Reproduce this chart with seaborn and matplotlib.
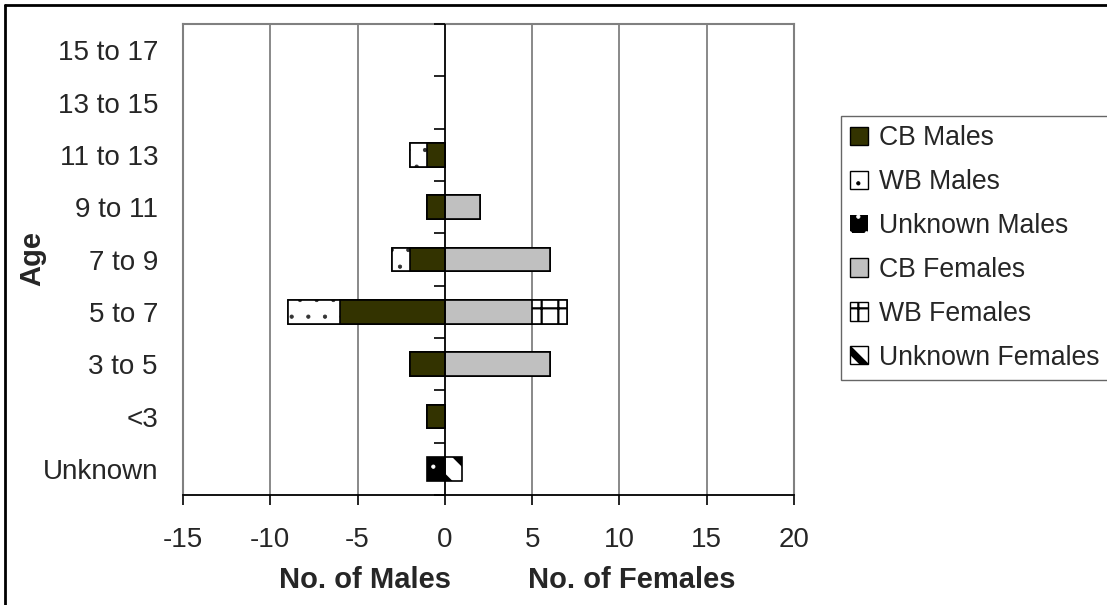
import numpy as np
import pandas as pd
import matplotlib
matplotlib.use("Agg")
import matplotlib.pyplot as plt
import seaborn as sns
from matplotlib.patches import Patch
from matplotlib.lines import Line2D

# ---------------- data ----------------
ages = ["15 to 17", "13 to 15", "11 to 13", "9 to 11", "7 to 9",
        "5 to 7", "3 to 5", "<3", "Unknown"]
cb_males = [0, 0, 1, 1, 2, 6, 2, 1, 0]
wb_males = [0, 0, 1, 0, 1, 3, 0, 0, 0]
unknown_males = [0, 0, 0, 0, 0, 0, 0, 0, 1]
cb_females = [0, 0, 0, 2, 6, 5, 6, 0, 0]
wb_females = [0, 0, 0, 0, 0, 2, 0, 0, 0]
unknown_females = [0, 0, 0, 0, 0, 0, 0, 0, 1]
series_names = ["CB Males", "WB Males", "Unknown Males",
                "CB Females", "WB Females", "Unknown Females"]
x_ticks = [-15, -10, -5, 0, 5, 10, 15, 20]

# ---------------- styles ----------------
styles = {
    "CB Males": dict(fc="#333300", hatch=None, hc="black", hlw=1.0),
    "WB Males": dict(fc="white", hatch=".", hc="#333333", hlw=0.6),
    "Unknown Males": dict(fc="black", hatch=".", hc="white", hlw=0.6),
    "CB Females": dict(fc="#C0C0C0", hatch=None, hc="black", hlw=1.0),
    "WB Females": dict(fc="white", hatch="+", hc="black", hlw=1.6),
    "Unknown Females": dict(fc="white", hatch="\\", hc="black", hlw=5.0),
}

sns.set_theme(style="white")
plt.rcParams["font.family"] = ["Liberation Sans", "DejaVu Sans"]

W, H = 1107, 605
fig = plt.figure(figsize=(W / 100, H / 100), dpi=100)
ax = fig.add_axes([183 / W, 1 - 495 / H, (794 - 183) / W, (495 - 24) / H])

BAR_W = 0.45
EDGE_LW = 1.2


def set_hatch_lw(p, lw):
    """Give one patch its own hatch line width (works at draw time)."""
    if hasattr(p, "set_hatch_linewidth"):
        try:
            p.set_hatch_linewidth(lw)
        except Exception:
            pass
    orig = p.draw

    def draw(renderer, _orig=orig, _lw=lw):
        with plt.rc_context({"hatch.linewidth": _lw}):
            _orig(renderer)
    p.draw = draw


def draw_layer(values, name):
    st = styles[name]
    vals = np.asarray(values, dtype=float)
    # fill + hatch pass (hatch colour via edgecolor)
    n0 = len(ax.patches)
    sns.barplot(x=vals, y=ages, order=ages, orient="h", width=BAR_W,
                color=st["fc"], saturation=1, edgecolor=st["hc"],
                linewidth=0, hatch=st["hatch"], ax=ax, errorbar=None)
    for p in ax.patches[n0:]:
        if abs(p.get_width()) < 1e-9:
            p.remove()
        else:
            set_hatch_lw(p, st["hlw"])
    # outline pass
    n0 = len(ax.patches)
    sns.barplot(x=vals, y=ages, order=ages, orient="h", width=BAR_W,
                fill=False, color="black", linewidth=EDGE_LW, ax=ax, errorbar=None)
    for p in ax.patches[n0:]:
        if abs(p.get_width()) < 1e-9:
            p.remove()
        else:
            p.set_edgecolor("black")
            p.set_facecolor("none")


cbm = np.array(cb_males)
wbm = np.array(wb_males)
ukm = np.array(unknown_males)
cbf = np.array(cb_females)
wbf = np.array(wb_females)
ukf = np.array(unknown_females)

# males (negative side) – outermost stacked segment drawn first
draw_layer(-(cbm + wbm + ukm), "Unknown Males")
draw_layer(-(cbm + wbm), "WB Males")
draw_layer(-cbm, "CB Males")
# females
draw_layer(cbf + wbf + ukf, "Unknown Females")
draw_layer(cbf + wbf, "WB Females")
draw_layer(cbf, "CB Females")

# ---------------- axes styling ----------------
ax.set_xlim(-15, 20)
ax.set_ylim(len(ages) - 0.5, -0.5)
ax.set_xticks(x_ticks)
ax.set_xticklabels([str(t) for t in x_ticks])
ax.set_xlabel("")
ax.set_ylabel("")
ax.grid(False)
for xv in x_ticks:
    if xv != 0:
        ax.axvline(xv, color="#808080", lw=1.3, zorder=0)
ax.axvline(0, color="black", lw=1.3, zorder=5)
ax.hlines(np.arange(len(ages) + 1) - 0.5, -0.6, 0, color="black", lw=1.2,
          zorder=5, clip_on=False)

for s in ["top", "right", "left"]:
    ax.spines[s].set_color("#808080")
    ax.spines[s].set_linewidth(1.5)
ax.spines["bottom"].set_color("black")
ax.spines["bottom"].set_linewidth(1.3)

ax.tick_params(axis="x", direction="out", length=7, width=1.2, color="black",
               pad=16, labelsize=20, bottom=True)
ax.tick_params(axis="y", length=0, pad=18, labelsize=20)

# axis titles
fig.text(365 / W, 1 - 580 / H, "No. of Males", ha="center", va="center",
         fontsize=21, fontweight="bold")
fig.text(632 / W, 1 - 580 / H, "No. of Females", ha="center", va="center",
         fontsize=21, fontweight="bold")
fig.text(32 / W, 1 - 259 / H, "Age", ha="center", va="center", rotation=90,
         fontsize=21, fontweight="bold")

# legend
handles = []
for name in series_names:
    st = styles[name]
    if name == "Unknown Males":
        h = Patch(facecolor=st["fc"], edgecolor=st["hc"], hatch=st["hatch"],
                  linewidth=0.0)
    else:
        h = Patch(facecolor=st["fc"], edgecolor="black", hatch=st["hatch"],
                  linewidth=1.0)
    handles.append(h)
leg = fig.legend(handles, series_names, loc="upper left",
                 bbox_to_anchor=(841 / W, 1 - 116 / H), frameon=True,
                 fancybox=False, edgecolor="#404040", fontsize=19.2,
                 handlelength=0.68, handleheight=0.68, handletextpad=0.4,
                 labelspacing=0.67, borderpad=0.35, borderaxespad=0)
leg.get_frame().set_linewidth(1.0)
for name, lh in zip(series_names, leg.legend_handles):
    set_hatch_lw(lh, styles[name]["hlw"])

# outer chart border
fig.add_artist(Line2D([5 / W, 5 / W], [0, 1 - 5 / H], color="black", lw=2,
                      transform=fig.transFigure))
fig.add_artist(Line2D([5 / W, 1], [1 - 5 / H, 1 - 5 / H], color="black", lw=2,
                      transform=fig.transFigure))

fig.savefig("out.png", dpi=100)
